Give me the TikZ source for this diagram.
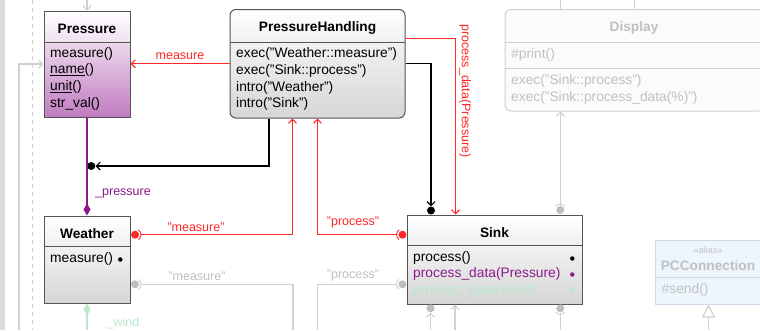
\documentclass[tikz,border=0pt]{standalone}
\usepackage{fontspec}
\setmainfont{Liberation Sans}
\usetikzlibrary{arrows.meta,calc}
\definecolor{cred}{RGB}{255,40,40}
\definecolor{lgray}{RGB}{208,208,208}
\definecolor{tgray}{RGB}{192,192,192}
\definecolor{bgray}{RGB}{190,190,190}
\definecolor{cpurple}{RGB}{140,25,140}
\definecolor{lgreen}{RGB}{185,232,205}
\definecolor{bord}{RGB}{85,85,85}
\definecolor{ptop}{RGB}{236,216,236}
\definecolor{pbot}{RGB}{192,124,192}
\definecolor{phead}{RGB}{240,224,240}
\definecolor{gtop}{RGB}{242,242,242}
\definecolor{gbot}{RGB}{214,214,214}
\definecolor{ghead}{RGB}{240,240,240}
\definecolor{pcfill}{RGB}{238,246,253}
\definecolor{pcbord}{RGB}{205,218,230}
\definecolor{dfill}{RGB}{251,251,251}
\tikzset{
  boxline/.style={draw=bord, line width=1pt, inner sep=0pt},
  ttl/.style={font=\fontsize{13.7}{16}\selectfont\bfseries, inner sep=0pt},
  mth/.style={font=\fontsize{13.8}{16}\selectfont, anchor=west, inner sep=0pt},
  lbl/.style={font=\fontsize{12.5}{14}\selectfont, inner sep=0pt},
  conn/.style={line width=1.1pt},
  barb/.style={-{Straight Barb[length=4pt,width=8pt]}},
  ball/.style={circle, fill, inner sep=0pt, minimum size=8pt},
  mdot/.style={circle, fill, inner sep=0pt, minimum size=4.5pt},
  sock/.style={line width=0.9pt},
}
\begin{document}
\begin{tikzpicture}[x=1pt,y=-1pt]
\useasboundingbox (0,0) rectangle (760,330);
\fill[white] (0,0) rectangle (760,330);
\fill[gray!28] (0,0) rectangle (5,330);
\draw[lgray, line width=0.9pt, dash pattern=on 4pt off 4pt] (32,0) -- (32,330);

% ---------- Pressure ----------
\shade[top color=white, bottom color=phead] (44,11) rectangle (130,42);
\shade[top color=ptop, bottom color=pbot] (44,42) rectangle (130,117);
\node[boxline, minimum width=86pt, minimum height=106pt] (pressure) at (87,64) {};
\draw[boxline] (44,42) -- (130,42);
\node[ttl] (ptitle) at (87,29) {Pressure};
\node[mth] (pm1) at (50,53.7) {measure()};
\node[mth] (pm2) at (50,70.3) {\underline{name}()};
\node[mth] (pm3) at (50,87) {\underline{unit}()};
\node[mth] (pm4) at (50,103.5) {str\_val()};

% ---------- PressureHandling ----------
\begin{scope}
\clip[rounded corners=6pt] (230,9.5) rectangle (405,118);
\shade[top color=white, bottom color=ghead] (230,9.5) rectangle (405,42.3);
\shade[top color=gtop, bottom color=gbot] (230,42.3) rectangle (405,118);
\end{scope}
\node[boxline, rounded corners=6pt, minimum width=175pt, minimum height=108.5pt] (ph) at (317.5,63.75) {};
\draw[boxline] (230,42.3) -- (405,42.3);
\node[ttl] (phtitle) at (317.5,28) {PressureHandling};
\node[mth] (phm1) at (236,54.3) {exec("Weather::measure")};
\node[mth] (phm2) at (236,71) {exec("Sink::process")};
\node[mth] (phm3) at (236,87.7) {intro("Weather")};
\node[mth] (phm4) at (236,104.4) {intro("Sink")};

% ---------- Display ----------
\node[draw=lgray, fill=dfill, line width=1pt, rounded corners=6pt, inner sep=0pt, minimum width=259pt, minimum height=101.5pt] (display) at (634.5,60.25) {};
\draw[lgray, line width=1pt] (505,42.3) -- (764,42.3);
\draw[lgray, line width=1pt] (505,68.3) -- (764,68.3);
\node[ttl, text=tgray] (dtitle) at (634,28) {Display};
\node[mth, text=tgray] (dm1) at (511,54.5) {\#print()};
\node[mth, text=tgray] (dm2) at (511,81) {exec("Sink::process")};
\node[mth, text=tgray] (dm3) at (511,97.5) {exec("Sink::process\_data(\%)")};

% ---------- Weather ----------
\shade[top color=white, bottom color=ghead] (44,216) rectangle (130,246);
\shade[top color=gtop, bottom color=gbot] (44,246) rectangle (130,303);
\node[boxline, minimum width=86pt, minimum height=87pt] (weather) at (87,259.5) {};
\draw[boxline] (44,246) -- (130,246);
\node[ttl] (wtitle) at (87,234) {Weather};
\node[mth] (wm1) at (50,259.3) {measure()};
\node[mdot] (wd1) at (120.3,259.5) {};

% ---------- Sink ----------
\shade[top color=white, bottom color=ghead] (407,215) rectangle (582,245);
\shade[top color=gtop, bottom color=gbot] (407,245) rectangle (582,304);
\node[boxline, minimum width=175pt, minimum height=89pt] (sink) at (494.5,259.5) {};
\draw[boxline] (407,245) -- (582,245);
\node[ttl] (stitle) at (494.5,233) {Sink};
\node[mth] (sm1) at (413,258.3) {process()};
\node[mth, text=cpurple] (sm2) at (413,274.3) {process\_data(Pressure)};
\node[mth, text=lgreen] (sm3) at (413,290.5) {process\_data(Wind)};
\node[mdot] (sd1) at (572.3,258.5) {};
\node[mdot, fill=cpurple] (sd2) at (572.3,274.5) {};
\node[mdot, fill=lgreen] (sd3) at (572.3,290.5) {};

% ---------- PCConnection ----------
\node[draw=pcbord, fill=pcfill, line width=1pt, inner sep=0pt, minimum width=107pt, minimum height=63.5pt] (pcc) at (708.5,272.25) {};
\draw[pcbord, line width=1pt] (655,277.5) -- (762,277.5);
\node[font=\fontsize{9}{10}\selectfont, text=tgray, inner sep=0pt] (pcst) at (708,250) {«alias»};
\node[ttl, text=tgray] (pctitle) at (708,266) {PCConnection};
\node[mth, text=tgray] (pcm1) at (661.5,290) {\#send()};

% ---------- connectors ----------
\coordinate (lgstart) at (19,330);
\draw[lgray, conn, barb] (lgstart) |- (pressure.west);
\coordinate (ptop) at (87,0);
\draw[lgray, conn, barb] (ptop) -- (pressure.north);

\draw[cred, conn, barb] (ph.west) -- (ph.west -| pressure.east);
\node[lbl, text=cred] (lmeasure) at (180,56) {measure};

\node[ball] (d1) at (91.3,166) {};
\coordinate (b1) at ($(ph.south)+(-48.5,0)$);
\draw[black, conn, barb] (b1) |- (d1.east);

\node[ball] (d2) at (431,210.5) {};
\draw[black, conn, barb] (ph.east) -| (d2.north);

\draw[cred, conn, barb] ($(ph.east)+(0,-25)$) -| ($(sink.north west)+(49,0)$);
\node[lbl, text=cred, rotate=-90] (lpd) at (465,91) {process\_data(Pressure)};

\draw[cpurple, conn, -{Diamond[length=12pt,width=7pt]}] (pressure.south) -- (weather.north);
\node[lbl, text=cpurple] (lpress) at (123,193) {\_pressure};

\coordinate (gend) at (87,330);
\draw[lgreen, conn, -{Diamond[length=12pt,width=7pt]}] (gend) -- (weather.south);
\node[lbl, text=lgreen] (lwind) at (123,323) {\_wind};

\node[ball, fill=cred] (wb1) at (135,234.7) {};
\draw[cred, sock] (wb1) ++(-55:6) arc[start angle=-55, end angle=55, radius=6];
\draw[cred, conn, barb] ($(wb1)+(6,0)$) -| ($(ph.south)+(-25,0)$);
\node[lbl, text=cred] (lqm) at (196,227) {"measure"};

\node[ball, fill=cred] (sk1) at (402.5,234.7) {};
\draw[cred, sock] (sk1) ++(125:6) arc[start angle=125, end angle=235, radius=6];
\draw[cred, conn, barb] ($(sk1)+(-6,0)$) -| (ph.south);
\node[lbl, text=cred] (lqp) at (353,222) {"process"};

\node[ball, fill=bgray] (wb2) at (135,284.3) {};
\draw[lgray, sock] (wb2) ++(-55:6) arc[start angle=-55, end angle=55, radius=6];
\coordinate (gm2) at (293,330);
\draw[lgray, conn] ($(wb2)+(6,0)$) -| (gm2);
\node[lbl, text=tgray] (lgm) at (197,276) {"measure"};

\node[ball, fill=bgray] (sk2) at (402.5,284.3) {};
\draw[lgray, sock] (sk2) ++(125:6) arc[start angle=125, end angle=235, radius=6];
\coordinate (gp2) at (317.7,330);
\draw[lgray, conn] ($(sk2)+(-6,0)$) -| (gp2);
\node[lbl, text=tgray] (lgp) at (353,275) {"process"};

\node[ball, fill=bgray] (sb1) at (560.3,210) {};
\draw[lgray, sock] (sb1) ++(220:6) arc[start angle=220, end angle=320, radius=6];
\draw[lgray, conn, barb] (sb1.north) -- (sb1.north |- display.south);
\coordinate (dtop1) at (560.3,0);
\draw[lgray, conn] (dtop1) -- (dtop1 |- display.north);
\coordinate (dtop2) at (634.5,0);
\draw[lgray, conn] (dtop2) -- (display.north);

\node[ball, fill=bgray] (sb2) at (430.5,308.3) {};
\coordinate (sb2e) at (430.5,330);
\draw[lgray, conn, barb] (sb2e) -- (sb2.south);
\coordinate (sb3e) at (455,330);
\draw[lgray, conn, barb] (sb3e) -- (sb3e |- sink.south);
\node[ball, fill=bgray] (sb3) at (560.3,308.3) {};
\draw[lgray, sock] (sb3) ++(40:6) arc[start angle=40, end angle=140, radius=6];
\coordinate (sb4e) at (560.3,330);
\draw[lgray, conn] (sb3.south) -- (sb4e);

\coordinate (pce) at (708.5,330);
\draw[lgray, conn, -{Triangle[open, length=13pt, width=13pt, fill=white]}] (pce) -- (pcc.south);
\end{tikzpicture}
\end{document}
